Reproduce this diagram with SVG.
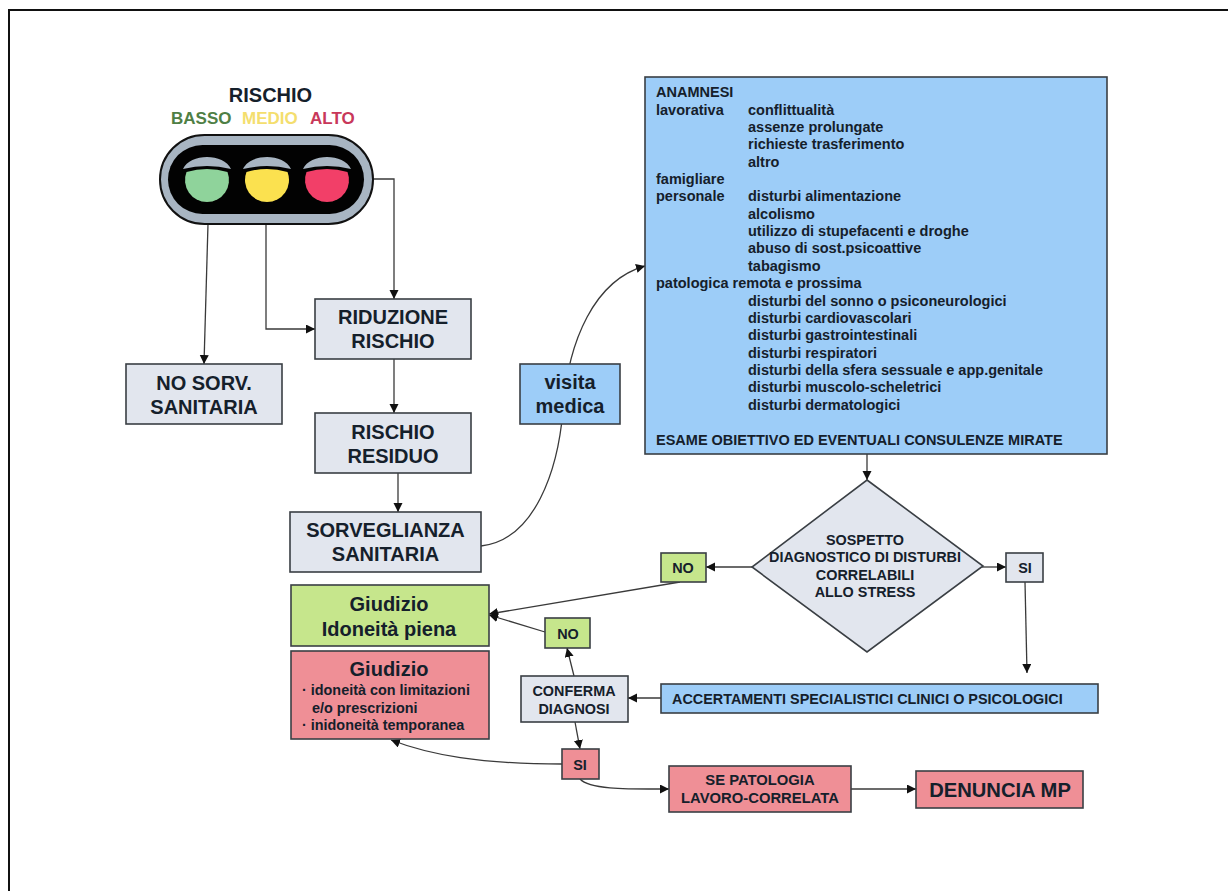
<svg xmlns="http://www.w3.org/2000/svg" width="1228" height="891" viewBox="0 0 1228 891">
<style>
text{font-family:"Liberation Sans",Arial,sans-serif;font-weight:bold;fill:#15202b}
.m{text-anchor:middle}
.b{stroke:#3a3f44;stroke-width:1.6}
.g{fill:#e2e6ee}.bl{fill:#9dcdf8}.gr{fill:#c6e68c}.r{fill:#ef8f96}
.c{fill:none;stroke:#3a3a3a;stroke-width:1.3}
.a{marker-end:url(#h)}
.l{font-size:14.500px}
.h{font-size:20px}
.s{font-size:14.400px}
</style>
<defs><marker id="h" markerUnits="userSpaceOnUse" markerWidth="10" markerHeight="10" refX="9" refY="4.500" orient="auto"><path d="M0 0L9 4.500L0 9Z" fill="#111"/></marker></defs>
<rect x="0" y="0" width="1228" height="891" fill="#fff"/>
<path id="frame" d="M9 891V10H1228" fill="none" stroke="#111" stroke-width="2"/>
<g id="connectors">
<path class="c a" d="M373 179H394V299"/>
<path class="c a" d="M208 224L204 364"/>
<path class="c a" d="M266 224V329H315"/>
<path class="c a" d="M394 359V413"/>
<path class="c a" d="M398 473V512"/>
<path class="c a" d="M481 546C535 540 558 470 563 410C568 340 595 280 645 266"/>
<path class="c a" d="M867 454V480"/>
<path class="c a" d="M752 567H706"/>
<path class="c a" d="M982 567H1006"/>
<path class="c a" d="M1025 582L1027 673"/>
<path class="c a" d="M680 582L489 614"/>
<path class="c a" d="M545 632L489 615"/>
<path class="c a" d="M574 676L567 648"/>
<path class="c a" d="M661 698H628"/>
<path class="c a" d="M575 722L580 749"/>
<path class="c a" d="M562 764C480 764 430 755 391 740"/>
<path class="c a" d="M580 779C590 790 630 789 669 789"/>
<path class="c a" d="M851 789H916"/>
</g>
<g id="semaforo">
<text class="m h" x="270.500" y="102">RISCHIO</text>
<text x="171" y="124" font-size="17" style="fill:#4f7f45">BASSO</text>
<text x="242" y="124" font-size="17" style="fill:#f4de6e">MEDIO</text>
<text x="310" y="124" font-size="17" style="fill:#c8385a">ALTO</text>
<rect x="160" y="135" width="213" height="89" rx="44.500" fill="#a8b5c2" stroke="#111" stroke-width="2"/>
<rect x="168" y="145" width="196" height="69" rx="34.500" fill="#020202"/>
<path d="M183 169C190 153 224 153 231 169Q207 163 183 169Z" fill="#a8b5c2"/>
<path d="M243 169C250 153 284 153 291 169Q267 163 243 169Z" fill="#a8b5c2"/>
<path d="M303 169C310 153 344 153 351 169Q327 163 303 169Z" fill="#a8b5c2"/>
<path d="M186.500 172Q207 166 227.500 172A22 22 0 1 1 186.500 172Z" fill="#8fd39b"/>
<path d="M246.500 172Q267 166 287.500 172A22 22 0 1 1 246.500 172Z" fill="#fbe14f"/>
<path d="M306.500 172Q327 166 347.500 172A22 22 0 1 1 306.500 172Z" fill="#f23f68"/>
</g>
<g id="riduzione"><rect class="b g" x="315" y="299" width="156" height="60"/><text class="m h" x="393" y="324">RIDUZIONE</text><text class="m h" x="393" y="348">RISCHIO</text></g>
<g id="nosorv"><rect class="b g" x="126" y="364" width="156" height="60"/><text class="m h" x="204" y="390">NO SORV.</text><text class="m h" x="204" y="414">SANITARIA</text></g>
<g id="residuo"><rect class="b g" x="315" y="413" width="156" height="60"/><text class="m h" x="393" y="439">RISCHIO</text><text class="m h" x="393" y="463">RESIDUO</text></g>
<g id="sorveglianza"><rect class="b g" x="290" y="512" width="191" height="60"/><text class="m h" x="385.500" y="537">SORVEGLIANZA</text><text class="m h" x="385.500" y="561">SANITARIA</text></g>
<g id="visita"><rect class="b bl" x="520" y="364" width="100" height="60"/><text class="m h" x="570" y="389">visita</text><text class="m h" x="570" y="413">medica</text></g>
<g id="anamnesi"><rect class="b bl" x="645" y="77" width="462" height="377"/>
<text class="l" x="656" y="97">ANAMNESI</text>
<text class="l" x="656" y="115">lavorativa</text><text class="l" x="748" y="115">conflittualità</text>
<text class="l" x="748" y="132">assenze prolungate</text>
<text class="l" x="748" y="149">richieste trasferimento</text>
<text class="l" x="748" y="167">altro</text>
<text class="l" x="656" y="184">famigliare</text>
<text class="l" x="656" y="201">personale</text><text class="l" x="748" y="201">disturbi alimentazione</text>
<text class="l" x="748" y="219">alcolismo</text>
<text class="l" x="748" y="236">utilizzo di stupefacenti e droghe</text>
<text class="l" x="748" y="253">abuso di sost.psicoattive</text>
<text class="l" x="748" y="271">tabagismo</text>
<text class="l" x="656" y="288">patologica remota e prossima</text>
<text class="l" x="748" y="306">disturbi del sonno o psiconeurologici</text>
<text class="l" x="748" y="323">disturbi cardiovascolari</text>
<text class="l" x="748" y="340">disturbi gastrointestinali</text>
<text class="l" x="748" y="358">disturbi respiratori</text>
<text class="l" x="748" y="375">disturbi della sfera sessuale e app.genitale</text>
<text class="l" x="748" y="392">disturbi muscolo-scheletrici</text>
<text class="l" x="748" y="410">disturbi dermatologici</text>
<text class="l" x="656" y="445">ESAME OBIETTIVO ED EVENTUALI CONSULENZE MIRATE</text>
</g>
<g id="sospetto"><polygon class="b g" points="867,480 983,566 867,652 752,567"/>
<text class="m s" x="865" y="545">SOSPETTO</text><text class="m s" x="865" y="562">DIAGNOSTICO DI DISTURBI</text><text class="m s" x="865" y="580">CORRELABILI</text><text class="m s" x="865" y="597">ALLO STRESS</text></g>
<g id="no1"><rect class="b gr" x="661" y="553" width="45" height="29"/><text class="m s" x="683" y="573">NO</text></g>
<g id="si1"><rect class="b g" x="1006" y="553" width="37" height="29"/><text class="m s" x="1025" y="573">SI</text></g>
<g id="idoneita"><rect class="b gr" x="291" y="585" width="198" height="61"/><text class="m h" x="389" y="611">Giudizio</text><text class="m h" x="389" y="636">Idoneità piena</text></g>
<g id="no2"><rect class="b gr" x="545" y="618" width="45" height="30"/><text class="m s" x="568" y="639">NO</text></g>
<g id="limitazioni"><rect class="b r" x="291" y="651" width="198" height="88"/><text class="m h" x="389" y="676">Giudizio</text>
<text class="s" x="302" y="695">· idoneità con limitazioni</text><text class="s" x="312" y="713">e/o prescrizioni</text><text class="s" x="302" y="730">· inidoneità temporanea</text></g>
<g id="conferma"><rect class="b g" x="521" y="676" width="107" height="46"/><text class="m s" x="574" y="696">CONFERMA</text><text class="m s" x="574" y="714">DIAGNOSI</text></g>
<g id="accertamenti"><rect class="b bl" x="661" y="684" width="437" height="29"/><text class="s" x="672" y="704">ACCERTAMENTI SPECIALISTICI CLINICI O PSICOLOGICI</text></g>
<g id="si2"><rect class="b r" x="562" y="749" width="37" height="30"/><text class="m s" x="580" y="770">SI</text></g>
<g id="patologia"><rect class="b r" x="669" y="766" width="182" height="46"/><text class="m" font-size="14.800" x="760" y="785">SE PATOLOGIA</text><text class="m" font-size="14.800" x="760" y="803">LAVORO-CORRELATA</text></g>
<g id="denuncia"><rect class="b r" x="916" y="771" width="167" height="37"/><text class="m" x="1000" y="797" font-size="20.200">DENUNCIA MP</text></g>
</svg>
